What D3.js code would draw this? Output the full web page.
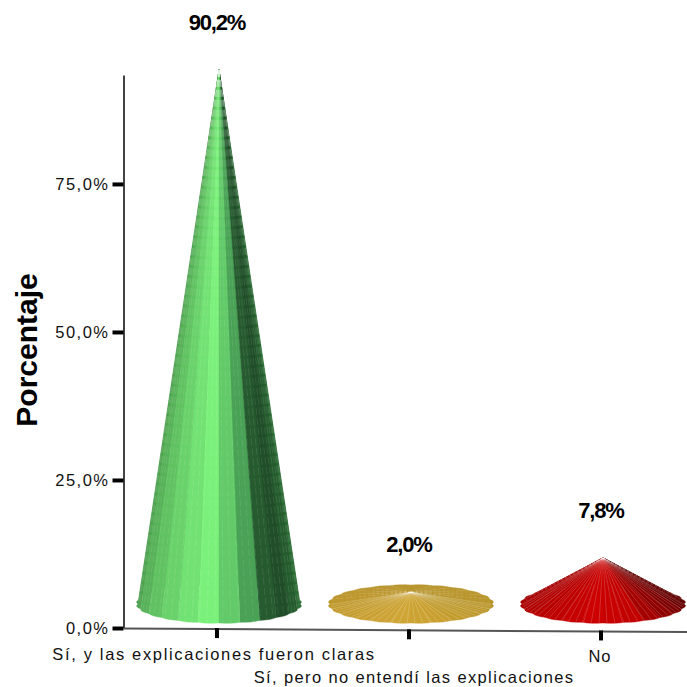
<!DOCTYPE html>
<html><head><meta charset="utf-8">
<script src="https://cdn.jsdelivr.net/npm/d3@7"></script>
<style>html,body{margin:0;padding:0;background:#fff}svg{display:block}text{font-family:"Liberation Sans",Arial,sans-serif}</style>
</head><body><svg id="c" width="687" height="687"></svg>
<script>
const categories = ["Sí, y las explicaciones fueron claras", "Sí, pero no entendí las explicaciones", "No"];
const values = [90.2, 2.0, 7.8];
const valueLabels = ["90,2%", "2,0%", "7,8%"];
const yTicks = [0, 25, 50, 75];
const yTickLabels = ["0,0%", "25,0%", "50,0%", "75,0%"];
const yTitle = "Porcentaje";
// shading ramps: back-left .. left .. bright front .. mid .. dark .. right edge .. back-right
const rampAngles = [-180, -90, -8, 22, 42, 90, 180];
const ramps = [
  ["#3f8a45", "#4a9a4c", "#7cf27c", "#4aa456", "#1c4424", "#2c7236", "#2a6a34"],
  ["#b8952e", "#bd9528", "#cfa636", "#c9a030", "#c09a2c", "#b89428", "#b8952e"],
  ["#8a1010", "#a80000", "#cc0000", "#c40000", "#9c0000", "#600000", "#702020"]
];

const svg = d3.select("#c");
const margin = {left: 123.5, top: 75, bottom: 628, right: 687};
const y = d3.scaleLinear().domain([0, 93.4]).range([margin.bottom, margin.top]);
const x = d3.scalePoint().domain(categories).range([217, 601]);
const xSlope = d3.scaleLinear().domain([margin.left, margin.right]).range([628.5, 632]);
const depth = 24, coneOffset = 2, rx = 81, ry = 19, facets = 24, meridians = 64;
const bulge = 1.025;

// Axes
const yAxis = d3.axisLeft(y).tickValues(yTicks).tickSize(11).tickSizeOuter(0).tickPadding(3)
  .tickFormat((d, i) => yTickLabels[i]);
const gy = svg.append("g").attr("transform", `translate(${margin.left},0)`).call(yAxis);
gy.select(".domain").attr("stroke", "#444").attr("stroke-width", 2);
gy.selectAll(".tick line").attr("stroke", "#000").attr("stroke-width", 4);
gy.selectAll(".tick text").attr("font-size", 16.5).attr("letter-spacing", 1.5).attr("fill", "#111")
  .attr("font-family", null);

svg.append("path").attr("fill", "none").attr("stroke", "#555").attr("stroke-width", 2)
  .attr("d", d3.line()(xSlope.domain().map(v => [v, xSlope(v)])));

const xAxis = d3.axisBottom(x).tickSize(10).tickSizeOuter(0).tickPadding(0);
const gx = svg.append("g").call(xAxis);
gx.select(".domain").remove();
gx.selectAll(".tick").attr("transform", d => `translate(${x(d)},${xSlope(x(d)) - 1})`);
gx.selectAll(".tick line").attr("stroke", "#000").attr("stroke-width", 4);
const labelDy = [32, 54, 32], labelDx = [-3, 5, -1], labelSpacing = [1.65, 1.38, 1];
gx.selectAll(".tick text")
  .attr("font-size", 16.5).attr("fill", "#111").attr("font-family", null)
  .attr("text-anchor", "middle")
  .attr("letter-spacing", (d, i) => labelSpacing[i])
  .attr("x", (d, i) => labelDx[i]).attr("y", (d, i) => labelDy[i]).attr("dy", 0);

svg.append("text").attr("transform", "translate(37,350) rotate(-90)")
  .attr("text-anchor", "middle").attr("font-size", 30).attr("font-weight", "bold").attr("fill", "#000").text(yTitle);

// Cones
const cones = svg.append("g");
categories.forEach((cat, i) => {
  const cx = x(cat) + coneOffset, cy = y(0) - depth;
  const apex = [cx, y(values[i]) - depth];
  const shade = d3.scaleLinear().domain(rampAngles).range(ramps[i]).interpolate(d3.interpolateRgb);
  const rim = (deg, k = 1) => {
    const t = deg * Math.PI / 180;
    return [cx + k * rx * Math.sin(t), cy + k * ry * Math.cos(t)];
  };
  const step = 360 / facets;
  const mids = d3.range(facets).map(k => -180 + step * (k + 0.5));
  const order = mids.slice().sort((a, b) => Math.abs(b) - Math.abs(a));
  const g = cones.append("g");
  order.forEach(m => {
    const a = m - step / 2, b = m + step / 2;
    const pts = [apex, rim(a), rim(m - step / 4, 1 + (bulge - 1) * 0.7), rim(m, bulge), rim(m + step / 4, 1 + (bulge - 1) * 0.7), rim(b)];
    g.append("path").attr("d", d3.line()(pts) + "Z").attr("fill", shade(m)).attr("stroke", shade(m)).attr("stroke-width", 0.4);
  });
  const mStep = 360 / meridians;
  d3.range(meridians).map(k => -180 + mStep * (k + 0.5))
    .filter(m => i !== 0 || Math.abs(m) < 90)
    .sort((a, b) => Math.abs(b) - Math.abs(a))
    .forEach(m => {
      const end = rim(m, 0.995);
      const front = Math.abs(m) < 90;
      g.append("line").attr("x1", apex[0]).attr("y1", apex[1]).attr("x2", end[0]).attr("y2", end[1])
        .attr("stroke", "#fff").attr("stroke-opacity", i === 0 ? 0.16 : (front ? 0.3 : 0.1)).attr("stroke-width", 0.6)
        .attr("stroke-dasharray", i === 0 ? "7 3" : (front ? null : "3 1.5"));
    });
  svg.append("text").attr("x", cx - 2).attr("y", apex[1] - 40).attr("text-anchor", "middle")
    .attr("font-size", 22).attr("font-weight", "bold").attr("letter-spacing", -1.2).attr("fill", "#000")
    .text(valueLabels[i]);
});
</script></body></html>
